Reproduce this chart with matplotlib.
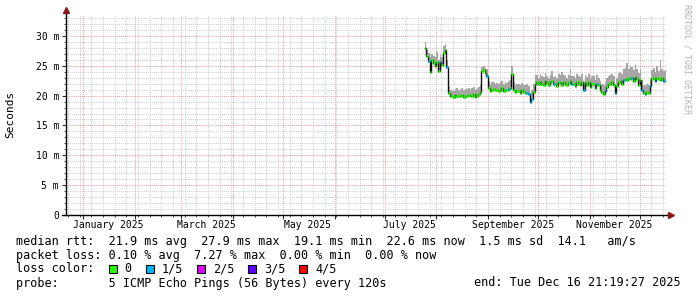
import datetime as dt
import numpy as np
import matplotlib
matplotlib.use("Agg")
import matplotlib.pyplot as plt
import matplotlib.dates as mdates
from matplotlib.patches import Rectangle
from matplotlib.ticker import FixedLocator, MultipleLocator

# time window of the graph (last 360 days)
graph_start = dt.datetime(2024, 12, 21, 21, 19, 27)
graph_end = dt.datetime(2025, 12, 16, 21, 19, 27)
first_day = dt.datetime(2025, 7, 25)   # first day with data

# daily median rtt (ms)
median_ms = [
    28.0, 26.6, 25.8, 24.0, 26.0, 25.4, 25.0, 25.6, 24.2, 25.6,
    25.2, 27.2, 27.6, 24.8, 20.4,
    19.9, 20.0, 19.7, 20.1, 20.0, 19.9, 20.0, 20.1, 19.8, 20.0,
    20.0, 20.1, 19.9, 20.0, 20.2, 19.8, 20.0, 20.3, 20.6,
    24.1, 24.3, 23.8, 23.3, 21.2,
    20.8, 21.0, 21.1, 20.9, 21.0, 20.7, 21.0, 21.2, 20.8, 21.0,
    20.9, 21.1, 21.3, 23.6,
    21.0, 20.6, 20.8, 20.7, 20.5, 20.9, 20.6, 20.4, 20.5, 20.3,
    19.0, 19.5, 20.6, 22.0,
    22.2, 21.9, 22.3, 22.0, 21.7, 22.4, 22.1, 21.8, 22.2, 22.5,
    21.9, 22.0, 21.6, 22.3, 22.1, 21.8, 22.2, 22.0, 21.7, 22.1,
    22.4, 21.9, 22.0, 21.6, 22.2, 22.0, 21.8, 22.3,
    21.0, 22.1, 21.8, 22.3, 21.4, 22.0, 21.9, 21.2, 22.0, 21.7,
    21.0, 20.6, 20.3, 20.8, 21.5, 21.9, 22.0, 22.2, 21.8, 20.4,
    21.6, 22.2, 22.4, 22.0, 22.6,
    22.8, 22.6, 23.0, 22.7, 22.9, 22.5, 23.1, 22.7,
    21.8, 22.6, 20.9, 20.5, 20.3, 20.6, 20.4, 21.6,
    22.7, 22.9, 22.5, 23.0, 22.8, 22.6, 22.9, 22.4, 22.6,
]

# daily max rtt (top of the smoke, ms)
max_ms = [
    29.0, 27.8, 27.2, 26.5, 27.0, 26.6, 26.4, 27.3, 26.0, 26.8,
    26.5, 28.3, 28.6, 26.0, 21.5,
    20.9, 21.0, 20.8, 21.1, 21.2, 20.9, 21.0, 21.3, 20.9, 21.0,
    21.1, 21.2, 21.0, 21.2, 21.4, 20.9, 21.1, 21.5, 21.8,
    24.8, 25.0, 24.6, 24.4, 22.4,
    22.0, 22.2, 22.3, 22.0, 22.1, 21.9, 22.2, 22.5, 22.0, 22.3,
    22.1, 22.4, 22.6, 24.9,
    22.3, 21.8, 22.0, 21.9, 21.8, 22.1, 21.8, 21.7, 21.9, 21.6,
    20.4, 21.0, 22.0, 23.4,
    23.4, 23.0, 23.6, 23.2, 23.1, 23.8, 23.3, 23.0, 23.5, 24.2,
    23.1, 23.3, 22.9, 23.6, 23.4, 24.0, 23.5, 23.2, 23.0, 23.4,
    24.4, 23.2, 23.3, 22.9, 23.6, 23.3, 23.1, 23.7,
    22.5, 23.4, 23.1, 23.7, 22.8, 23.3, 23.2, 22.6, 23.4, 23.0,
    22.4, 22.0, 21.8, 22.2, 23.0, 23.2, 23.4, 23.6, 23.2, 21.9,
    23.0, 23.8, 24.0, 23.6, 24.4,
    24.6, 25.4, 24.5, 25.0, 24.8, 24.3, 25.2, 24.4,
    23.8, 24.5, 22.6, 21.8, 21.6, 21.9, 21.7, 23.0,
    24.3, 24.6, 24.0, 25.0, 24.2, 26.0, 24.5, 24.1, 24.3,
]

# days (index from first_day) where 1 of 5 pings was lost
loss_1of5_days = [2, 9, 13, 37, 50, 61, 62, 63, 64, 77, 88, 95, 103,
                  108, 114, 119, 124, 130, 132, 135, 138, 143]

ytick_values = [0, 5, 10, 15, 20, 25, 30]
month_labels = ["January 2025", "March 2025", "May 2025",
                "July 2025", "September 2025", "November 2025"]
label_months = [1, 3, 5, 7, 9, 11]

stats_line = "median rtt:  21.9 ms avg  27.9 ms max  19.1 ms min  22.6 ms now  1.5 ms sd  14.1   am/s"
loss_line = "packet loss: 0.10 % avg  7.27 % max  0.00 % min  0.00 % now"
probe_line = "probe:       5 ICMP Echo Pings (56 Bytes) every 120s"
end_line = "end: Tue Dec 16 21:19:27 2025"
loss_color_labels = ["0", "1/5", "2/5", "3/5", "4/5"]
loss_color_values = ["#26ff00", "#00b8ff", "#dd00ff", "#5e00ff", "#ff0000"]

MONO = "DejaVu Sans Mono"
W, H = 697, 297


def fx(px):
    return px / W


def fy(py):
    return 1 - py / H


fig = plt.figure(figsize=(W / 100, H / 100), dpi=100)
fig.patch.set_facecolor("white")
ax = fig.add_axes([fx(66), fy(215), 600 / W, 200 / H])

# ---- data ----
x0 = mdates.date2num(first_day)
xs = x0 + np.arange(len(median_ms))
med = np.array(median_ms)
top = np.array(max_ms)

ax.fill_between(np.append(xs, xs[-1] + 1), np.append(med, med[-1]),
                np.append(top, top[-1]), step="post",
                color="#a6a6a6", lw=0, zorder=2)
ax.step(np.append(xs, xs[-1] + 1), np.append(med, med[-1]), where="post",
        color="#101010", lw=1.0, zorder=3)
cols = [loss_color_values[1] if i in loss_1of5_days else loss_color_values[0]
        for i in range(len(med))]
ax.hlines(med, xs, xs + 1, colors=cols, lw=2.0, zorder=4)

# ---- axes / grid ----
ax.set_xlim(mdates.date2num(graph_start), mdates.date2num(graph_end))
ax.set_ylim(0, 33.5)

month_starts = [mdates.date2num(dt.datetime(2025, m, 1)) for m in range(1, 13)]
ax.xaxis.set_major_locator(FixedLocator(month_starts))
ax.xaxis.set_minor_locator(mdates.WeekdayLocator(byweekday=mdates.MO))
ax.set_xticklabels([])
ax.yaxis.set_major_locator(FixedLocator(ytick_values))
ax.yaxis.set_minor_locator(MultipleLocator(1))
ax.set_yticklabels(["0" if v == 0 else "%d m" % v for v in ytick_values],
                   family=MONO, fontsize=7)

ax.grid(which="minor", color="#cccccc", lw=0.7, ls=(0, (1, 1)))
ax.grid(which="major", color="#eaa0a0", lw=0.7, ls=(0, (1, 1)))
ax.set_axisbelow(True)
ax.tick_params(which="major", length=3, width=0.8, pad=2, color="#303030")
ax.tick_params(which="minor", length=1.5, width=0.6, color="#303030")

for s in ax.spines.values():
    s.set_visible(False)
ax.plot([0, 0], [0, 1.025], transform=ax.transAxes, color="black", lw=1,
        clip_on=False, zorder=5)
ax.plot([-0.007, 1.008], [0, 0], transform=ax.transAxes, color="black", lw=1,
        clip_on=False, zorder=5)
ax.plot([0], [1.027], transform=ax.transAxes, marker="^", ms=4,
        color="#8b1a1a", clip_on=False, zorder=6)
ax.plot([1.009], [0], transform=ax.transAxes, marker=">", ms=4,
        color="#8b1a1a", clip_on=False, zorder=6)

for m, lab in zip(label_months, month_labels):
    xm = mdates.date2num(dt.datetime(2025, m, 16))
    ax.text(xm, -10 / 200, lab, transform=ax.get_xaxis_transform(),
            ha="center", va="center", family=MONO, fontsize=7)

# ---- texts ----
fig.text(fx(10), fy(114), "Seconds", rotation=90, ha="center", va="center",
         family=MONO, fontsize=8)
fig.text(fx(687), fy(4), "RRDTOOL / TOBI OETIKER", rotation=270,
         ha="center", va="top", family=MONO, fontsize=6, color="#b4b4b4")

fs = 8.5
fig.text(fx(16), fy(241), stats_line, ha="left", va="center", family=MONO, fontsize=fs)
fig.text(fx(16), fy(255), loss_line, ha="left", va="center", family=MONO, fontsize=fs)
fig.text(fx(16), fy(269), "loss color:", ha="left", va="center", family=MONO, fontsize=fs)
fig.text(fx(16), fy(283), probe_line, ha="left", va="center", family=MONO, fontsize=fs)
fig.text(fx(681), fy(283), end_line, ha="right", va="center", family=MONO, fontsize=fs)

box_x = [108.5, 145.5, 197, 248, 299]
for bx, lab, col in zip(box_x, loss_color_labels, loss_color_values):
    fig.patches.append(Rectangle((fx(bx), fy(273)), 8 / W, 8 / H,
                                 transform=fig.transFigure, facecolor=col,
                                 edgecolor="black", lw=0.8))
    fig.text(fx(bx + 16), fy(269), lab, ha="left", va="center",
             family=MONO, fontsize=fs)

fig.savefig("out.png", dpi=100)
